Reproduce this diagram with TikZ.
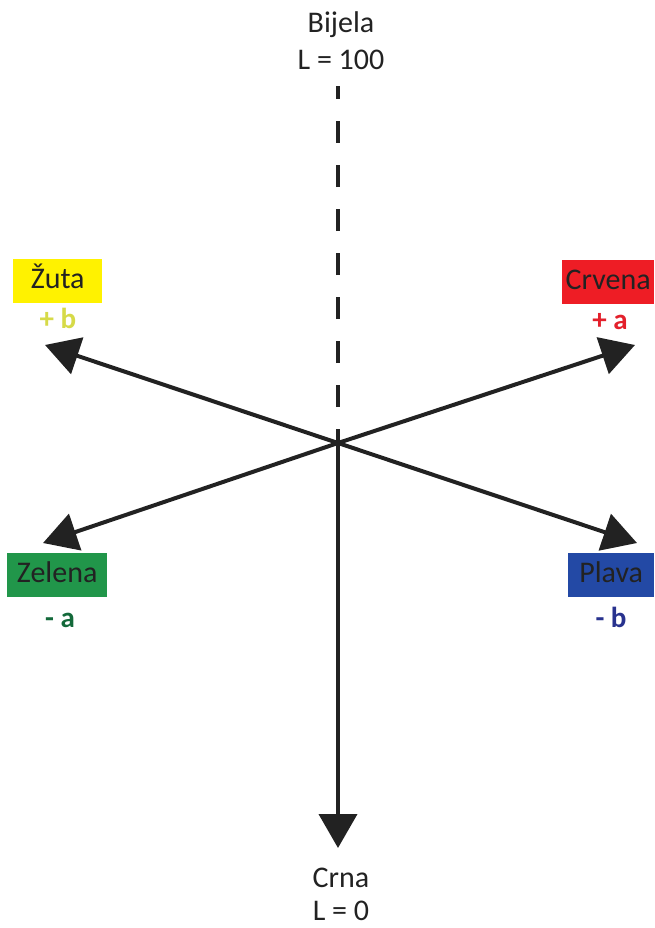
\documentclass[tikz,border=0pt]{standalone}
\usepackage{fontspec}
\setmainfont{Carlito}
\usetikzlibrary{arrows.meta}
\definecolor{boxyellow}{HTML}{FFF200}
\definecolor{boxred}{HTML}{EE1D25}
\definecolor{boxgreen}{HTML}{21964A}
\definecolor{boxblue}{HTML}{2349A5}
\definecolor{txtyellow}{HTML}{D6DA48}
\definecolor{txtred}{HTML}{E3202B}
\definecolor{txtgreen}{HTML}{13693A}
\definecolor{txtblue}{HTML}{28328E}
\definecolor{ink}{HTML}{222222}
\tikzset{
  axis/.style={line width=4pt, draw=ink},
  axisarrow/.style={axis, -{Triangle[length=34pt,width=38pt]}},
  lbl/.style={font=\fontsize{30}{36}\selectfont, text=ink, inner sep=0pt, anchor=base},
  sgn/.style={font=\fontsize{29}{36}\selectfont\bfseries, inner sep=0pt, anchor=base},
  colbox/.style={font=\fontsize{30}{36}\selectfont, text=ink, inner sep=0pt,
    text height=20pt, text depth=5pt, anchor=north west}
}
\begin{document}
\begin{tikzpicture}[x=1pt,y=-1pt]
\useasboundingbox (0,0) rectangle (654,928);
% center and axis points
\coordinate (C) at (338,443);
\coordinate (dtop) at (338,86);
\coordinate (dbot) at (338,407);
\coordinate (sstart) at (338,429);
\coordinate (down) at (338,848);
\coordinate (ul) at (45,345);
\coordinate (ur) at (635,345);
\coordinate (ll) at (43,543);
\coordinate (lr) at (637,543);
% vertical axis
\draw[axis, dash pattern=on 22pt off 22pt] (dbot) -- (dtop);
\draw[axisarrow] (sstart) -- (down);
% diagonal axes
\draw[axisarrow] (C) -- (ul);
\draw[axisarrow] (C) -- (ur);
\draw[axisarrow] (C) -- (ll);
\draw[axisarrow] (C) -- (lr);
% top and bottom labels
\node[lbl] (bij) at (341,33) {Bijela};
\node[lbl] (l100) at (341,70) {L = 100};
\node[lbl] (crna) at (341,887) {Crna};
\node[lbl] (l0) at (341,920) {L = 0};
% coloured boxes
\node[colbox, fill=boxyellow, minimum width=89pt, minimum height=44pt] (zuta) at (13,259) {Žuta};
\node[colbox, fill=boxred, minimum width=92pt, minimum height=44pt] (crv) at (562,260) {Crvena};
\node[colbox, fill=boxgreen, minimum width=100pt, minimum height=44pt] (zel) at (7,553) {Zelena};
\node[colbox, fill=boxblue, minimum width=86pt, minimum height=44pt] (pla) at (568,553) {Plava};
% signs
\node[sgn, text=txtyellow] (pb) at (58,328) {+ b};
\node[sgn, text=txtred] (pa) at (610,329) {+ a};
\node[sgn, text=txtgreen] (ma) at (60,627) {- a};
\node[sgn, text=txtblue] (mb) at (611,627) {- b};
\end{tikzpicture}
\end{document}
